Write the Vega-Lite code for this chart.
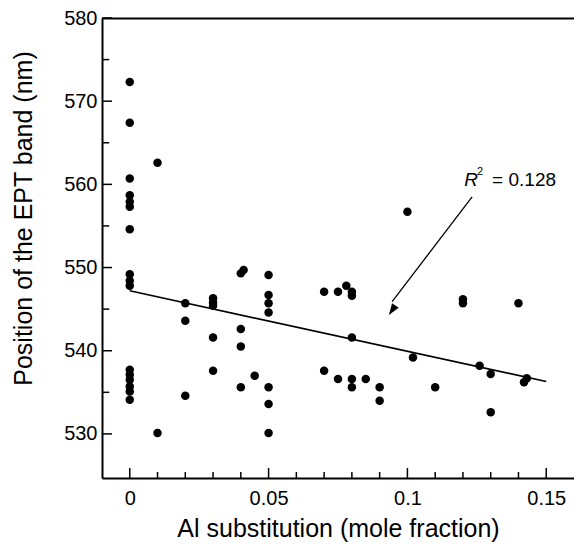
{
  "$schema": "https://vega.github.io/schema/vega-lite/v6.json",
  "width": 472,
  "height": 460,
  "autosize": "none",
  "padding": {"left": 102, "top": 18, "right": 0, "bottom": 67},
  "background": "white",
  "config": {"view": {"stroke": null}, "font": "Liberation Sans"},
  "resolve": {"axis": {"x": "independent", "y": "independent"}},
  "layer": [
    {
      "data": {"values": [
        {"al": 0, "pos": 572.3}, {"al": 0, "pos": 567.4}, {"al": 0, "pos": 560.7}, {"al": 0, "pos": 558.7},
        {"al": 0, "pos": 557.9}, {"al": 0, "pos": 557.3}, {"al": 0, "pos": 554.6}, {"al": 0, "pos": 549.2},
        {"al": 0, "pos": 548.4}, {"al": 0, "pos": 547.8}, {"al": 0, "pos": 537.7}, {"al": 0, "pos": 537.1},
        {"al": 0, "pos": 536.5}, {"al": 0, "pos": 535.7}, {"al": 0, "pos": 535.1}, {"al": 0, "pos": 534.1},
        {"al": 0.01, "pos": 562.6}, {"al": 0.01, "pos": 530.1},
        {"al": 0.02, "pos": 545.7}, {"al": 0.02, "pos": 543.6}, {"al": 0.02, "pos": 534.6},
        {"al": 0.03, "pos": 546.3}, {"al": 0.03, "pos": 545.8}, {"al": 0.03, "pos": 545.4}, {"al": 0.03, "pos": 541.6}, {"al": 0.03, "pos": 537.6},
        {"al": 0.04, "pos": 549.3}, {"al": 0.041, "pos": 549.7}, {"al": 0.04, "pos": 542.6}, {"al": 0.04, "pos": 540.5}, {"al": 0.04, "pos": 535.6},
        {"al": 0.045, "pos": 537.0},
        {"al": 0.05, "pos": 549.1}, {"al": 0.05, "pos": 546.7}, {"al": 0.05, "pos": 545.7}, {"al": 0.05, "pos": 544.6},
        {"al": 0.05, "pos": 535.6}, {"al": 0.05, "pos": 533.6}, {"al": 0.05, "pos": 530.1},
        {"al": 0.07, "pos": 547.1}, {"al": 0.07, "pos": 537.6},
        {"al": 0.075, "pos": 547.1}, {"al": 0.075, "pos": 536.6},
        {"al": 0.078, "pos": 547.8},
        {"al": 0.08, "pos": 547.1}, {"al": 0.08, "pos": 546.6}, {"al": 0.08, "pos": 541.6}, {"al": 0.08, "pos": 536.6}, {"al": 0.08, "pos": 535.6},
        {"al": 0.085, "pos": 536.6},
        {"al": 0.09, "pos": 535.6}, {"al": 0.09, "pos": 534.0},
        {"al": 0.1, "pos": 556.7},
        {"al": 0.102, "pos": 539.2},
        {"al": 0.11, "pos": 535.6},
        {"al": 0.12, "pos": 546.2}, {"al": 0.12, "pos": 545.7},
        {"al": 0.126, "pos": 538.2},
        {"al": 0.13, "pos": 537.2}, {"al": 0.13, "pos": 532.6},
        {"al": 0.14, "pos": 545.7},
        {"al": 0.142, "pos": 536.2}, {"al": 0.143, "pos": 536.7}
      ]},
      "mark": {"type": "point", "shape": "circle", "filled": true, "color": "black", "opacity": 1, "size": 72},
      "encoding": {
        "x": {
          "field": "al", "type": "quantitative",
          "scale": {"domain": [-0.01, 0.16], "nice": false, "zero": false},
          "axis": {
            "title": "Al substitution (mole fraction)",
            "values": [0, 0.05, 0.1, 0.15],
            "format": "~g",
            "ticks": false,
            "domainColor": "black", "domainWidth": 2,
            "labelFontSize": 20, "labelColor": "black", "labelPadding": 10,
            "titleFontSize": 25, "titleFontWeight": "normal", "titleColor": "black",
            "titleX": 236, "titleY": 58, "titleBaseline": "alphabetic",
            "grid": false
          }
        },
        "y": {
          "field": "pos", "type": "quantitative",
          "scale": {"domain": [524.7, 580], "nice": false, "zero": false},
          "axis": {
            "title": "Position of the EPT band (nm)",
            "values": [530, 540, 550, 560, 570, 580],
            "ticks": false,
            "domainColor": "black", "domainWidth": 2,
            "labelFontSize": 20, "labelColor": "black", "labelPadding": 5,
            "titleFontSize": 25, "titleFontWeight": "normal", "titleColor": "black",
            "titleX": -71, "titleY": 200, "titleBaseline": "alphabetic",
            "grid": false
          }
        }
      }
    },
    {
      "data": {"values": [{"al": 0, "pos": 547.2}, {"al": 0.15, "pos": 536.3}]},
      "mark": {"type": "line", "color": "black", "strokeWidth": 1.6},
      "encoding": {
        "x": {"field": "al", "type": "quantitative",
          "axis": {"orient": "top", "labels": false, "ticks": false, "domain": true, "domainColor": "black", "domainWidth": 2, "title": null, "grid": false}},
        "y": {"field": "pos", "type": "quantitative", "axis": null}
      }
    },
    {
      "data": {"values": [{"v": 0}, {"v": 0.05}, {"v": 0.1}, {"v": 0.15}]},
      "mark": {"type": "rule", "color": "black", "strokeWidth": 1.5},
      "encoding": {
        "x": {"field": "v", "type": "quantitative", "axis": null},
        "y": {"datum": 524.7, "type": "quantitative", "axis": null},
        "y2": {"datum": 525.9}
      }
    },
    {
      "data": {"values": [{"v": 0.01}, {"v": 0.02}, {"v": 0.03}, {"v": 0.04}, {"v": 0.06}, {"v": 0.07}, {"v": 0.08}, {"v": 0.09}, {"v": 0.11}, {"v": 0.12}, {"v": 0.13}, {"v": 0.14}]},
      "mark": {"type": "rule", "color": "black", "strokeWidth": 1.5},
      "encoding": {
        "x": {"field": "v", "type": "quantitative", "axis": null},
        "y": {"datum": 524.7, "type": "quantitative", "axis": null},
        "y2": {"datum": 525.42}
      }
    },
    {
      "data": {"values": [{"v": 530}, {"v": 540}, {"v": 550}, {"v": 560}, {"v": 570}, {"v": 580}]},
      "mark": {"type": "rule", "color": "black", "strokeWidth": 1.5},
      "encoding": {
        "y": {"field": "v", "type": "quantitative", "axis": null},
        "x": {"datum": -0.01, "type": "quantitative", "axis": null},
        "x2": {"datum": -0.0064}
      }
    },
    {
      "data": {"values": [{"v": 535}, {"v": 545}, {"v": 555}, {"v": 565}, {"v": 575}]},
      "mark": {"type": "rule", "color": "black", "strokeWidth": 1.5},
      "encoding": {
        "y": {"field": "v", "type": "quantitative", "axis": null},
        "x": {"datum": -0.01, "type": "quantitative", "axis": null},
        "x2": {"datum": -0.0074}
      }
    },
    {
      "data": {"values": [{"x1": 0.1233, "y1": 558.5, "x2": 0.0945, "y2": 545.9}]},
      "mark": {"type": "rule", "color": "black", "strokeWidth": 1.3},
      "encoding": {
        "x": {"field": "x1", "type": "quantitative", "axis": null},
        "y": {"field": "y1", "type": "quantitative", "axis": null},
        "x2": {"field": "x2"},
        "y2": {"field": "y2"}
      }
    },
    {
      "data": {"values": [{"x": 0.0933, "y": 544.3}]},
      "mark": {"type": "point", "shape": "M0,0L-0.35,1L0.35,1Z", "filled": true, "color": "black", "opacity": 1, "size": 530, "angle": 215},
      "encoding": {
        "x": {"field": "x", "type": "quantitative", "axis": null},
        "y": {"field": "y", "type": "quantitative", "axis": null}
      }
    },
    {
      "data": {"values": [{"x": 0.1205, "y": 559.86, "t": "R"}]},
      "mark": {"type": "text", "align": "left", "baseline": "alphabetic", "fontSize": 19, "fontStyle": "italic", "color": "black"},
      "encoding": {
        "x": {"field": "x", "type": "quantitative", "axis": null},
        "y": {"field": "y", "type": "quantitative", "axis": null},
        "text": {"field": "t"}
      }
    },
    {
      "data": {"values": [{"x": 0.1251, "y": 561.1, "t": "2"}]},
      "mark": {"type": "text", "align": "left", "baseline": "alphabetic", "fontSize": 11, "color": "black"},
      "encoding": {
        "x": {"field": "x", "type": "quantitative", "axis": null},
        "y": {"field": "y", "type": "quantitative", "axis": null},
        "text": {"field": "t"}
      }
    },
    {
      "data": {"values": [{"x": 0.1305, "y": 559.86, "t": "= 0.128"}]},
      "mark": {"type": "text", "align": "left", "baseline": "alphabetic", "fontSize": 19, "color": "black"},
      "encoding": {
        "x": {"field": "x", "type": "quantitative", "axis": null},
        "y": {"field": "y", "type": "quantitative", "axis": null},
        "text": {"field": "t"}
      }
    }
  ]
}
